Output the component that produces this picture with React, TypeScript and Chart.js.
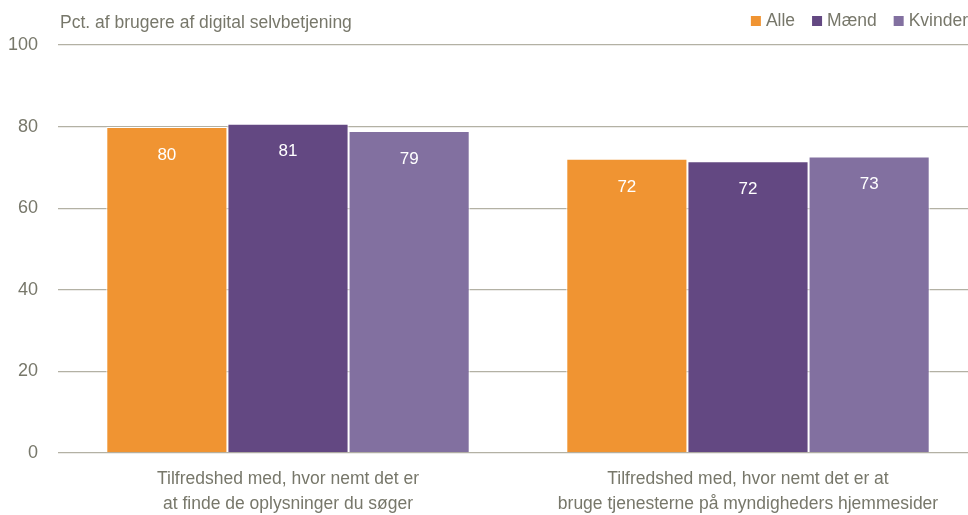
import React, { useEffect, useRef } from "react";
import { Chart, registerables } from "chart.js";

Chart.register(...registerables);

const categories: string[][] = [
  ["Tilfredshed med, hvor nemt det er", "at finde de oplysninger du søger"],
  ["Tilfredshed med, hvor nemt det er at", "bruge tjenesterne på myndigheders hjemmesider"],
];
const seriesNames = ["Alle", "Mænd", "Kvinder"];
const alle = [79.9, 72.1];
const maend = [80.7, 71.5];
const kvinder = [78.9, 72.7];
const yTicks = [0, 20, 40, 60, 80, 100];
const yTitle = "Pct. af brugere af digital selvbetjening";

const COLORS = ["#F09432", "#634882", "#8270A0"];
const TEXT = "#77776a";
const GRID = "#b3b1a4";
const FONT = "'Liberation Sans Narrow', 'Arial Narrow', 'Liberation Sans', sans-serif";

const overlay = {
  id: "overlay",
  afterDatasetsDraw(chart: any) {
    const ctx = chart.ctx;
    ctx.save();
    // data labels
    ctx.font = `17px ${FONT}`;
    ctx.fillStyle = "#ffffff";
    ctx.textAlign = "center";
    ctx.textBaseline = "middle";
    chart.data.datasets.forEach((ds: any, i: number) => {
      const meta = chart.getDatasetMeta(i);
      meta.data.forEach((bar: any, j: number) => {
        ctx.fillText(String(Math.round(ds.data[j])), bar.x, bar.y + 28);
      });
    });
    // title
    ctx.fillStyle = TEXT;
    ctx.textAlign = "left";
    ctx.font = `17.5px ${FONT}`;
    ctx.fillText(yTitle, 60, 23);
    // legend (right aligned at 968)
    ctx.font = `17.5px ${FONT}`;
    const items = chart.data.datasets.map((d: any) => d.label);
    const box = 10;
    const gapBoxText = 5;
    const gapItems = 17;
    const widths = items.map((t: string) => box + gapBoxText + ctx.measureText(t).width);
    const total = widths.reduce((a: number, b: number) => a + b, 0) + gapItems * (items.length - 1);
    let x = 968 - total;
    items.forEach((t: string, i: number) => {
      ctx.fillStyle = chart.data.datasets[i].backgroundColor;
      ctx.fillRect(x, 16, box, box);
      ctx.fillStyle = TEXT;
      ctx.fillText(t, x + box + gapBoxText, 21);
      x += widths[i] + gapItems;
    });
    ctx.restore();
  },
};

export default function App() {
  const ref = useRef<HTMLCanvasElement>(null);
  useEffect(() => {
    if (!ref.current) return;
    const chart = new Chart(ref.current, {
      type: "bar",
      data: {
        labels: categories,
        datasets: [alle, maend, kvinder].map((d, i) => ({
          label: seriesNames[i],
          data: d,
          backgroundColor: COLORS[i],
          borderColor: "#ffffff",
          borderWidth: 1,
          categoryPercentage: 0.79,
          barPercentage: 1,
        })),
      },
      options: {
        animation: false,
        responsive: false,
        maintainAspectRatio: false,
        layout: { padding: { top: 45, left: 0, right: 0, bottom: 0 } },
        plugins: {
          legend: { display: false },
          title: { display: false },
          tooltip: { enabled: false },
        },
        scales: {
          x: {
            grid: { display: false, drawTicks: false },
            border: { display: false },
            afterFit: (axis: any) => {
              axis.height = 62;
            },
            ticks: {
              color: TEXT,
              font: { family: FONT, size: 17.5, lineHeight: 1.43 },
              padding: 14,
              maxRotation: 0,
              autoSkip: false,
            },
          },
          y: {
            min: 0,
            max: 100,
            afterBuildTicks: (axis: any) => {
              axis.ticks = yTicks.map((v) => ({ value: v }));
            },
            afterFit: (axis: any) => {
              axis.width = 58;
            },
            grid: { color: GRID, lineWidth: 1.3, drawTicks: false },
            border: { display: false },
            ticks: {
              color: TEXT,
              font: { family: FONT, size: 18 },
              padding: 20,
            },
          },
        },
      },
      plugins: [overlay],
    });
    return () => chart.destroy();
  }, []);
  return (
    <div style={{ position: "fixed", left: 0, top: 0, width: 968, height: 515, overflow: "hidden", background: "#fff" }}>
      <canvas ref={ref} width={978} height={515} style={{ width: 978, height: 515, display: "block" }} />
    </div>
  );
}
